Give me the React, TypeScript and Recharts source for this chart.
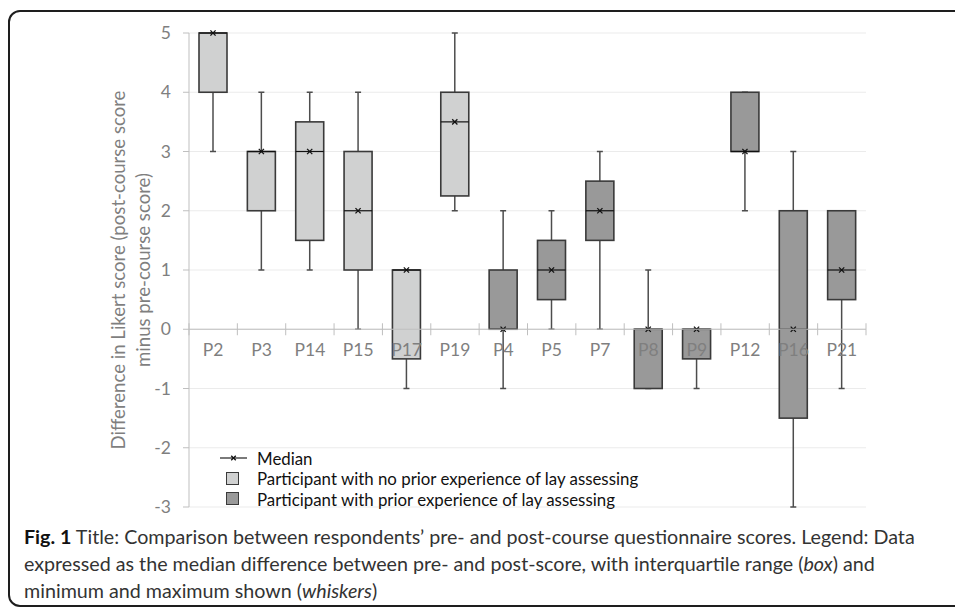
import React from 'react';
import { ComposedChart, Bar, XAxis, YAxis, CartesianGrid, ReferenceLine } from 'recharts';

const participants = ['P2', 'P3', 'P14', 'P15', 'P17', 'P19', 'P4', 'P5', 'P7', 'P8', 'P9', 'P12', 'P16', 'P21'];
const priorExperience = [false, false, false, false, false, false, true, true, true, true, true, true, true, true];
const minValues = [3, 1, 1, 0, -1, 2, -1, 0, 0, -1, -1, 2, -3, -1];
const q1Values = [4, 2, 1.5, 1, -0.5, 2.25, 0, 0.5, 1.5, -1, -0.5, 3, -1.5, 0.5];
const medianValues = [5, 3, 3, 2, 1, 3.5, 0, 1, 2, 0, 0, 3, 0, 1];
const q3Values = [5, 3, 3.5, 3, 1, 4, 1, 1.5, 2.5, 0, 0, 4, 2, 2];
const maxValues = [5, 4, 4, 4, 1, 5, 2, 2, 3, 1, 0, 4, 3, 2];
const yTicks = [-3, -2, -1, 0, 1, 2, 3, 4, 5];
const Y_MIN = -3;
const Y_MAX = 5;

const legendLabels = [
  'Median',
  'Participant with no prior experience of lay assessing',
  'Participant with prior experience of lay assessing',
];

const data = participants.map((name, i) => ({
  name,
  prior: priorExperience[i],
  min: minValues[i],
  q1: q1Values[i],
  median: medianValues[i],
  q3: q3Values[i],
  max: maxValues[i],
  range: [minValues[i], maxValues[i]],
}));

const CHART_W = 955;
const CHART_H = 540;
const MARGIN = { top: 33, right: 89, left: 129, bottom: 3 };
const Y_AXIS_W = 60;
const X_AXIS_H = 30;
const PLOT_W = CHART_W - MARGIN.left - MARGIN.right - Y_AXIS_W;
const PLOT_H = CHART_H - MARGIN.top - MARGIN.bottom - X_AXIS_H;
const ZERO_Y = MARGIN.top + (PLOT_H * (Y_MAX - 0)) / (Y_MAX - Y_MIN);

const LIGHT = '#d0d1d1';
const DARK = '#999999';
const BOX_STROKE = '#3a3a3a';
const WHISKER = '#4d4d4d';
const LABEL_GREY = '#7f7f7f';
const FONT = 'Lato, "Open Sans", sans-serif';

const XMark = ({ cx, cy, s = 2.6 }: { cx: number; cy: number; s?: number }) => (
  <g stroke="#111" strokeWidth={1.3}>
    <line x1={cx - s} y1={cy - s} x2={cx + s} y2={cy + s} />
    <line x1={cx - s} y1={cy + s} x2={cx + s} y2={cy - s} />
  </g>
);

const BoxShape = (props: any) => {
  const { x, y, width, height, payload } = props;
  if (x == null || y == null) return null;
  const top = Math.min(y, y + height);
  const bottom = Math.max(y, y + height);
  const { min, max, q1, q3, median, prior } = payload;
  const pix = (v: number) => (max === min ? top : top + ((max - v) / (max - min)) * (bottom - top));
  const cx = x + width / 2;
  const cap = 3;
  const boxTop = pix(q3);
  const boxBottom = pix(q1);
  const my = pix(median);
  return (
    <g>
      <line x1={cx} x2={cx} y1={top} y2={bottom} stroke={WHISKER} strokeWidth={1.5} />
      <line x1={cx - cap} x2={cx + cap} y1={top} y2={top} stroke={WHISKER} strokeWidth={1.5} />
      <line x1={cx - cap} x2={cx + cap} y1={bottom} y2={bottom} stroke={WHISKER} strokeWidth={1.5} />
      <rect
        x={x}
        y={boxTop}
        width={width}
        height={Math.max(boxBottom - boxTop, 0)}
        fill={prior ? DARK : LIGHT}
        stroke={BOX_STROKE}
        strokeWidth={1.6}
      />
      <line x1={x} x2={x + width} y1={my} y2={my} stroke="#111" strokeWidth={1.2} />
      <XMark cx={cx} cy={my} />
    </g>
  );
};

const XTick = (props: any) => {
  const { x, payload, index } = props;
  const band = PLOT_W / participants.length;
  const half = band / 2;
  const isLast = index === participants.length - 1;
  return (
    <g>
      <line x1={x - half} x2={x - half} y1={ZERO_Y - 6} y2={ZERO_Y + 6} stroke="#bfbfbf" strokeWidth={1} />
      {isLast && (
        <line x1={x + half} x2={x + half} y1={ZERO_Y - 6} y2={ZERO_Y + 6} stroke="#bfbfbf" strokeWidth={1} />
      )}
      <text
        x={x}
        y={ZERO_Y + 20.5}
        textAnchor="middle"
        dominantBaseline="central"
        fill={LABEL_GREY}
        fontSize={17.5}
        fontFamily={FONT}
      >
        {payload.value}
      </text>
    </g>
  );
};

const YLabel = () => {
  const cy = MARGIN.top + PLOT_H / 2;
  return (
    <g fill={LABEL_GREY} fontSize={18.6} fontFamily={FONT}>
      <text x={118} y={cy} textAnchor="middle" dominantBaseline="central" transform={`rotate(-90, 118, ${cy})`}>
        Difference in Likert score (post-course score
      </text>
      <text x={143} y={cy} textAnchor="middle" dominantBaseline="central" transform={`rotate(-90, 143, ${cy})`}>
        minus pre-course score)
      </text>
    </g>
  );
};

const LegendOverlay = () => (
  <svg
    width={460}
    height={66}
    style={{ position: 'absolute', left: 218, top: 446, display: 'block', overflow: 'visible' }}
  >
    <g fontFamily={FONT} fontSize={16.85} fill="#111">
      <line x1={2} x2={29} y1={12} y2={12} stroke="#222" strokeWidth={1.2} />
      <XMark cx={15.5} cy={12} s={2.3} />
      <text x={39} y={12} dominantBaseline="central">{legendLabels[0]}</text>
      <rect x={8.5} y={26.5} width={12} height={12} fill={LIGHT} stroke={BOX_STROKE} strokeWidth={1} />
      <text x={39} y={32.5} dominantBaseline="central">{legendLabels[1]}</text>
      <rect x={8.5} y={46.5} width={12} height={12} fill={DARK} stroke={BOX_STROKE} strokeWidth={1} />
      <text x={39} y={53} dominantBaseline="central">{legendLabels[2]}</text>
    </g>
  </svg>
);

export default function App() {
  return (
    <div
      style={{
        position: 'fixed',
        left: 0,
        top: 0,
        width: 955,
        height: 607,
        overflow: 'hidden',
        background: '#fff',
      }}
    >
      <div
        style={{
          position: 'absolute',
          left: 8,
          top: 10,
          width: 1000,
          height: 597,
          border: '2px solid #1e1e1e',
          borderRadius: 12,
          boxSizing: 'border-box',
        }}
      />
      <div style={{ position: 'absolute', left: 0, top: 0 }}>
        <ComposedChart width={CHART_W} height={CHART_H} data={data} margin={MARGIN}>
          <CartesianGrid horizontal vertical={false} stroke="#ebebeb" strokeWidth={1} />
          <ReferenceLine y={0} stroke="#bfbfbf" strokeWidth={1.2} />
          <YAxis
            type="number"
            domain={[Y_MIN, Y_MAX]}
            ticks={yTicks}
            interval={0}
            width={Y_AXIS_W}
            tickSize={6}
            tickMargin={12}
            axisLine={{ stroke: '#bfbfbf' }}
            tickLine={{ stroke: '#bfbfbf' }}
            tick={{ fill: LABEL_GREY, fontSize: 17.5, fontFamily: FONT }}
            label={{ content: () => <YLabel /> }}
          />
          <Bar dataKey="range" barSize={28} shape={<BoxShape />} isAnimationActive={false} />
          <XAxis
            dataKey="name"
            type="category"
            interval={0}
            height={X_AXIS_H}
            axisLine={false}
            tickLine={false}
            tick={<XTick />}
          />
        </ComposedChart>
      </div>
      <LegendOverlay />
      <div
        style={{
          position: 'absolute',
          left: 24,
          top: 522.5,
          width: 940,
          fontFamily: FONT,
          fontSize: 19.7,
          lineHeight: '27px',
          color: '#333',
          whiteSpace: 'nowrap',
        }}
      >
        <div>
          <b style={{ color: '#111' }}>Fig. 1</b> Title: Comparison between respondents’ pre- and post-course questionnaire scores. Legend: Data
        </div>
        <div>expressed as the median difference between pre- and post-score, with interquartile range (<i>box</i>) and</div>
        <div>
          minimum and maximum shown (<i>whiskers</i>)
        </div>
      </div>
    </div>
  );
}
